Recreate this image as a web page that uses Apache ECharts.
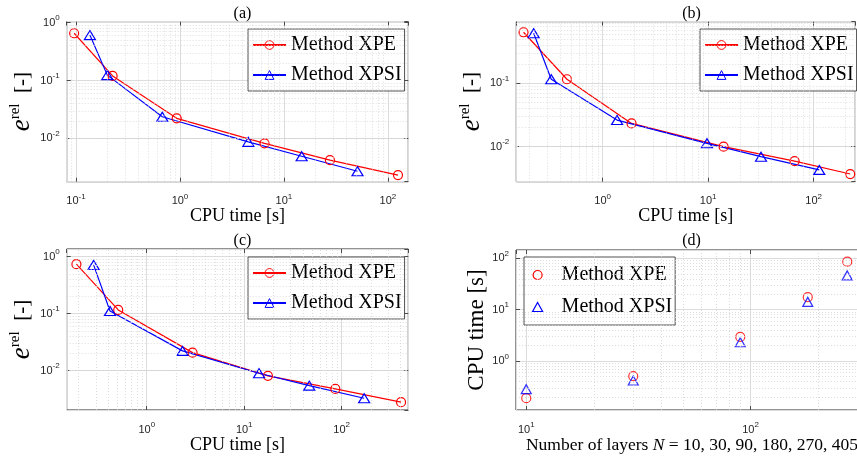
<!DOCTYPE html>
<html>
<head>
<meta charset="utf-8">
<script src="https://cdn.jsdelivr.net/npm/echarts@6/dist/echarts.min.js"></script>
<style>
  html, body { margin: 0; padding: 0; background: #fff; }
  #main { width: 857px; height: 457px; }
</style>
</head>
<body>
<div id="main"></div>
<script>
// (a) relative error vs CPU time
var cpuA_XPE  = [0.096, 0.225, 0.93, 6.5, 27.7, 125];
var errA_XPE  = [0.656, 0.12, 0.0222, 0.0082, 0.0042, 0.00232];
var cpuA_XPSI = [0.136, 0.2, 0.676, 4.54, 14.8, 51];
var errA_XPSI = [0.61, 0.124, 0.0236, 0.0087, 0.0049, 0.0027];

// (b)
var cpuB_XPE  = [0.178, 0.459, 1.88, 14.0, 66, 222];
var errB_XPE  = [0.64, 0.116, 0.0233, 0.010, 0.0059, 0.0037];
var cpuB_XPSI = [0.222, 0.326, 1.37, 9.75, 31.7, 113];
var errB_XPSI = [0.617, 0.116, 0.0263, 0.0113, 0.00695, 0.0043];

// (c)
var cpuC_XPE  = [0.19, 0.51, 2.95, 17.5, 86, 406];
var errC_XPE  = [0.736, 0.116, 0.0207, 0.0081, 0.00478, 0.0028];
var cpuC_XPSI = [0.285, 0.42, 2.33, 14.2, 46.5, 170];
var errC_XPSI = [0.715, 0.111, 0.0222, 0.009, 0.00546, 0.00328];

// (d) CPU time vs number of layers (same timings as (c))
var layers = [10, 30, 90, 180, 270, 405];

var SERIF = "'Liberation Serif', 'DejaVu Serif', serif";
var SANS = "'Liberation Sans', Arial, sans-serif";
var RED = '#ff0000', BLUE = '#0000ff', INK = '#262626', NONE = 'rgba(0,0,0,0)';

function pairs(xs, ys) {
  return xs.map(function (x, i) { return [x, ys[i]]; });
}

// 2..9 x 10^k inside (min, max) for the dotted minor grid
function minorVals(min, max) {
  var out = [];
  for (var k = Math.floor(Math.log10(min)); k <= Math.ceil(Math.log10(max)); k++) {
    for (var m = 2; m <= 9; m++) {
      var v = m * Math.pow(10, k);
      if (v > min && v < max) out.push(v);
    }
  }
  return out;
}

var tickRich = {
  b: { fontFamily: SANS, fontSize: 11, color: INK },
  s: { fontFamily: SANS, fontSize: 8, color: INK, padding: [0, 0, 9, 0] }
};
function expLabel(v) {
  return '{b|10}{s|' + Math.round(Math.log10(v)) + '}';
}

var errName = '{e|e}{s|rel}{t|  [-]}';
var errRich = {
  e: { fontFamily: SERIF, fontStyle: 'italic', fontSize: 27, color: '#000' },
  s: { fontFamily: SERIF, fontSize: 15, color: '#000', padding: [0, 0, 14, 0] },
  t: { fontFamily: SERIF, fontSize: 21, color: '#000' }
};

var panels = [
  { tag: '(a)', box: { left: 66.7, top: 21.7, width: 341.6, height: 160 }, xr: [0.0814, 157], yr: [0.00178, 1.04],
    lg: { left: 248, top: 29 }, xe: cpuA_XPE, ye: errA_XPE, xs: cpuA_XPSI, ys: errA_XPSI, line: true },
  { tag: '(b)', box: { left: 516.3, top: 21.7, width: 339, height: 160 }, xr: [0.152, 248], yr: [0.0028, 0.94],
    lg: { left: 700, top: 29 }, xe: cpuB_XPE, ye: errB_XPE, xs: cpuB_XPSI, ys: errB_XPSI, line: true },
  { tag: '(c)', box: { left: 66.7, top: 249, width: 341.6, height: 161 }, xr: [0.151, 482], yr: [0.00204, 1.36],
    lg: { left: 248, top: 257 }, xe: cpuC_XPE, ye: errC_XPE, xs: cpuC_XPSI, ys: errC_XPSI, line: true },
  { tag: '(d)', box: { left: 516, top: 250, width: 381, height: 160 }, xr: [9, 450], yr: [0.112, 145],
    lg: { left: 524, top: 257 }, xe: layers, ye: cpuC_XPE, xs: layers, ys: cpuC_XPSI, line: false }
];

var grids = [], xAxes = [], yAxes = [], series = [], legends = [], titles = [];

panels.forEach(function (p, i) {
  grids.push({
    left: p.box.left, top: p.box.top, width: p.box.width, height: p.box.height,
    show: true, borderColor: INK, borderWidth: 1, backgroundColor: 'transparent',
    containLabel: false, outerBoundsMode: 'none'
  });

  var tick = { show: true, inside: true, length: 4, lineStyle: { color: INK, width: 0.8 } };
  var split = { show: true, lineStyle: { color: '#dcdcdc', width: 1 } };

  xAxes.push({
    type: 'log', gridIndex: i, position: 'bottom', min: p.xr[0], max: p.xr[1],
    axisLine: { show: false }, axisTick: tick, splitLine: split,
    axisLabel: { formatter: expLabel, rich: tickRich, margin: 11, showMinLabel: false, showMaxLabel: false, hideOverlap: false },
    name: p.line ? 'CPU time [s]' : '', nameLocation: 'middle', nameGap: 26,
    nameTextStyle: { fontFamily: SERIF, fontSize: 18, color: '#000' }
  });
  xAxes.push({
    type: 'log', gridIndex: i, position: 'top', min: p.xr[0], max: p.xr[1],
    axisLine: { show: false }, axisTick: tick, splitLine: { show: false }, axisLabel: { show: false }
  });
  yAxes.push({
    type: 'log', gridIndex: i, position: 'left', min: p.yr[0], max: p.yr[1],
    axisLine: { show: false }, axisTick: tick, splitLine: split,
    axisLabel: { formatter: expLabel, rich: tickRich, margin: 7, showMinLabel: false, showMaxLabel: false, hideOverlap: false },
    name: p.line ? errName : 'CPU time [s]', nameLocation: 'middle', nameRotate: 90,
    nameGap: p.line ? 30 : 25,
    nameTextStyle: p.line ? { rich: errRich } : { fontFamily: SERIF, fontSize: 23, color: '#000' }
  });
  yAxes.push({
    type: 'log', gridIndex: i, position: 'right', min: p.yr[0], max: p.yr[1],
    axisLine: { show: false }, axisTick: tick, splitLine: { show: false }, axisLabel: { show: false }
  });

  var xa = 2 * i, ya = 2 * i;

  // dotted minor grid
  var minor = minorVals(p.xr[0], p.xr[1]).map(function (v) { return { xAxis: v }; })
    .concat(minorVals(p.yr[0], p.yr[1]).map(function (v) { return { yAxis: v }; }));
  series.push({
    type: 'line', xAxisIndex: xa, yAxisIndex: ya, data: [], z: 1, silent: true,
    markLine: {
      silent: true, symbol: ['none', 'none'], label: { show: false }, animation: false,
      lineStyle: { color: '#d4d4d4', width: 0.8, type: [1, 2] },
      emphasis: { disabled: true }, data: minor
    }
  });

  series.push({
    name: 'Method XPE', type: p.line ? 'line' : 'scatter', xAxisIndex: xa, yAxisIndex: ya,
    data: pairs(p.xe, p.ye), symbol: 'circle', symbolSize: 9, z: 3,
    lineStyle: { color: RED, width: 1.2 },
    itemStyle: { color: NONE, borderColor: RED, borderWidth: 1.2 },
    animation: false
  });
  series.push({
    name: 'Method XPSI', type: p.line ? 'line' : 'scatter', xAxisIndex: xa, yAxisIndex: ya,
    data: pairs(p.xs, p.ys), symbol: 'triangle', symbolSize: p.line ? [11, 9] : [10, 9], z: 3,
    lineStyle: { color: BLUE, width: 1.2 },
    itemStyle: { color: NONE, borderColor: BLUE, borderWidth: 1.2 },
    animation: false
  });

  var lg = {
    orient: 'vertical', left: p.lg.left, top: p.lg.top, selectedMode: false,
    backgroundColor: '#fff', borderColor: INK, borderWidth: 0.8, borderRadius: 0,
    textStyle: { fontFamily: SERIF, fontSize: 20, color: '#000' }
  };
  if (p.line) {
    lg.padding = [6, 3, 6, 4];
    lg.itemWidth = 33; lg.itemHeight = 11; lg.itemGap = 10;
    lg.itemStyle = { borderWidth: 1 };
    lg.data = ['Method XPE', 'Method XPSI'];
  } else {
    lg.padding = [8, 3, 8, 8];
    lg.itemWidth = 10; lg.itemHeight = 9; lg.itemGap = 12;
    lg.textStyle.padding = [0, 0, 0, 14];
    lg.data = [
      { name: 'Method XPE', icon: 'circle', itemStyle: { color: NONE, borderColor: RED, borderWidth: 1.2 } },
      { name: 'Method XPSI', icon: 'triangle', itemStyle: { color: NONE, borderColor: BLUE, borderWidth: 1.2 } }
    ];
  }
  legends.push(lg);

  titles.push({
    text: p.tag, left: i % 2 === 0 ? 237.5 : 686.5, top: i < 2 ? 1 : 228, textAlign: 'center',
    textStyle: { fontFamily: SERIF, fontSize: 16, fontWeight: 'normal', color: '#000' }
  });
});

// x label of (d): its box is cut by the right edge, so centre it on the visible part
titles.push({
  text: '{r|Number of layers }{i|N}{r| = 10, 30, 90, 180, 270, 405}',
  left: 687, top: 431, textAlign: 'center',
  textStyle: {
    fontWeight: 'normal',
    rich: {
      r: { fontFamily: SERIF, fontSize: 17.5, fontWeight: 'normal', color: '#000' },
      i: { fontFamily: SERIF, fontSize: 17.5, fontWeight: 'normal', fontStyle: 'italic', color: '#000' }
    }
  }
});

var myChart = echarts.init(document.getElementById('main'), null, { renderer: 'canvas' });
myChart.setOption({
  backgroundColor: '#fff',
  animation: false,
  title: titles,
  legend: legends,
  grid: grids,
  xAxis: xAxes,
  yAxis: yAxes,
  series: series
});
</script>
</body>
</html>
